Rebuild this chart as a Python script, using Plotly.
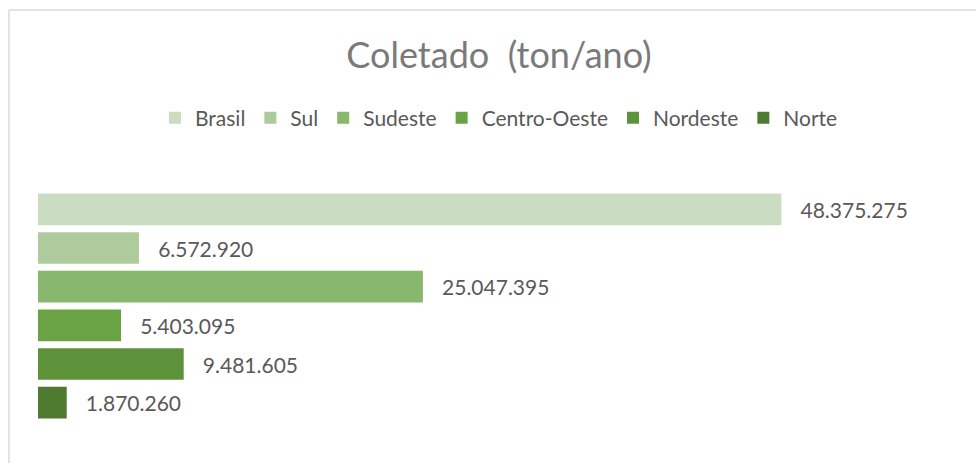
import plotly.graph_objects as go

regions = ["Brasil", "Sul", "Sudeste", "Centro-Oeste", "Nordeste", "Norte"]
values = [48375275, 6572920, 25047395, 5403095, 9481605, 1870260]
colors = ["#CADCC1", "#AECB9D", "#88B76E", "#6AA343", "#5E923A", "#4F7B31"]
title_text = "Coletado  (ton/ano)"

FONT = "Lato, 'Open Sans', sans-serif"
fig = go.Figure()
for name, v, c in zip(regions, values, colors):
    fig.add_trace(go.Bar(
        name=name, y=["Coletado"], x=[v], orientation="h",
        marker=dict(color=c, line=dict(width=0)),
        texttemplate="\u00a0\u00a0\u00a0%{x:,.0f}", textposition="outside",
        textfont=dict(size=21, color="#595959", family=FONT),
        cliponaxis=False, hoverinfo="x+name",
    ))

fig.update_layout(
    width=976, height=463,
    margin=dict(l=38, r=16, t=190, b=41),
    paper_bgcolor="white", plot_bgcolor="white",
    separators=",.",
    barmode="group", bargap=0.0, bargroupgap=0.18,
    title=dict(text=title_text, x=0.5, xref="paper", xanchor="center",
               y=1 - 55/463, yanchor="middle", yref="container",
               font=dict(size=36, color="#7A7A7A", family=FONT)),
    legend=dict(orientation="h", x=0.5, xanchor="center", xref="paper",
                y=1 - 118/463, yanchor="middle", yref="container",
                font=dict(size=21, color="#595959", family=FONT),
                itemsizing="constant", traceorder="normal"),
    xaxis=dict(range=[0, 60000000], visible=False, showgrid=False, zeroline=False),
    yaxis=dict(autorange="reversed", visible=False, showgrid=False),
    showlegend=True,
)

# chart frame (top and left border)
fig.add_shape(type="line", xref="paper", yref="paper", xsizemode="pixel", ysizemode="pixel",
              xanchor=0, yanchor=1, x0=-29, x1=960, y0=180, y1=180,
              line=dict(color="#D9D9D9", width=1.5))
fig.add_shape(type="line", xref="paper", yref="paper", xsizemode="pixel", ysizemode="pixel",
              xanchor=0, yanchor=1, x0=-29, x1=-29, y0=180, y1=-300,
              line=dict(color="#D9D9D9", width=1.5))

fig.write_html("out.html", config={"displayModeBar": False},
               post_script="document.body.style.margin='0';")
